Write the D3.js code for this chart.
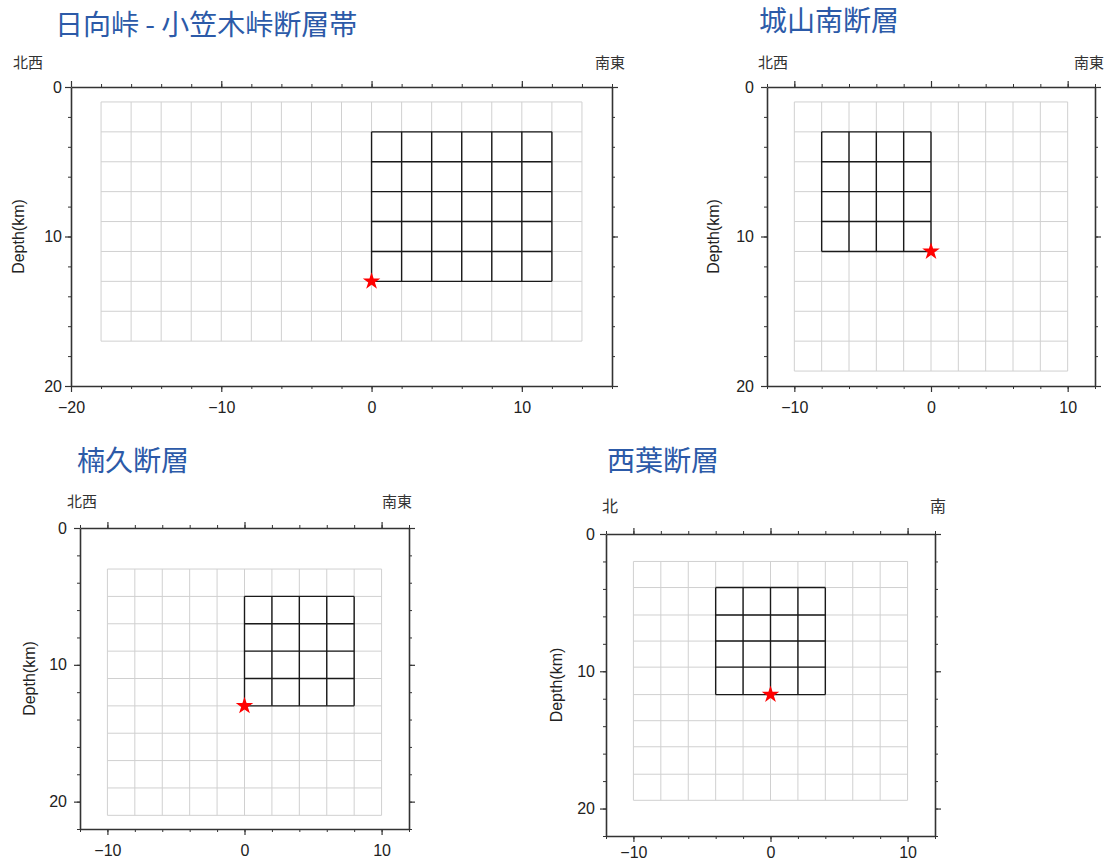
<!DOCTYPE html>
<html>
<head>
<meta charset="utf-8">
<script src="https://cdn.jsdelivr.net/npm/d3@7"></script>
<style>
  body { margin: 0; background: #fff; }
  svg { display: block; }
</style>
</head>
<body>
<div id="chart"></div>
<script>
// fault model cross-sections (depth in km vs horizontal distance in km)

// 日向峠 - 小笠木峠断層帯
const p1Title = "日向峠 - 小笠木峠断層帯";
const p1Ends = ["北西", "南東"];
const p1XDomain = [-20, 16];
const p1YDomain = [0, 20];
const p1XMajor = [-20, -10, 0, 10];
const p1YMajor = [0, 10, 20];
const p1GridX = [-18, -16, -14, -12, -10, -8, -6, -4, -2, 0, 2, 4, 6, 8, 10, 12, 14];
const p1GridY = [1, 3, 5, 7, 9, 11, 13, 15, 17];
const p1FaultX = [0, 2, 4, 6, 8, 10, 12];
const p1FaultY = [3, 5, 7, 9, 11, 13];
const p1Star = [0, 13];

// 城山南断層
const p2Title = "城山南断層";
const p2Ends = ["北西", "南東"];
const p2XDomain = [-12, 12];
const p2YDomain = [0, 20];
const p2XMajor = [-10, 0, 10];
const p2YMajor = [0, 10, 20];
const p2GridX = [-10, -8, -6, -4, -2, 0, 2, 4, 6, 8, 10];
const p2GridY = [1, 3, 5, 7, 9, 11, 13, 15, 17, 19];
const p2FaultX = [-8, -6, -4, -2, 0];
const p2FaultY = [3, 5, 7, 9, 11];
const p2Star = [0, 11];

// 楠久断層
const p3Title = "楠久断層";
const p3Ends = ["北西", "南東"];
const p3XDomain = [-12, 12];
const p3YDomain = [0, 22];
const p3XMajor = [-10, 0, 10];
const p3YMajor = [0, 10, 20];
const p3GridX = [-10, -8, -6, -4, -2, 0, 2, 4, 6, 8, 10];
const p3GridY = [3, 5, 7, 9, 11, 13, 15, 17, 19, 21];
const p3FaultX = [0, 2, 4, 6, 8];
const p3FaultY = [5, 7, 9, 11, 13];
const p3Star = [0, 13];

// 西葉断層
const p4Title = "西葉断層";
const p4Ends = ["北", "南"];
const p4XDomain = [-12, 12];
const p4YDomain = [0, 22];
const p4XMajor = [-10, 0, 10];
const p4YMajor = [0, 10, 20];
const p4GridX = [-10, -8, -6, -4, -2, 0, 2, 4, 6, 8, 10];
const p4GridY = [2.0, 3.9, 5.9, 7.8, 9.7, 11.7, 13.6, 15.5, 17.5, 19.4];
const p4FaultX = [-4, -2, 0, 2, 4];
const p4FaultY = [3.9, 5.9, 7.8, 9.7, 11.7];
const p4Star = [0, 11.7];

const panels = [
  { title: p1Title, ends: p1Ends, xDomain: p1XDomain, yDomain: p1YDomain, xMajor: p1XMajor, yMajor: p1YMajor,
    gridX: p1GridX, gridY: p1GridY, faultX: p1FaultX, faultY: p1FaultY, star: p1Star,
    frame: { left: 71, top: 87, right: 612, bottom: 386 },
    titlePos: [55, 35], endsY: 68, endsX: [13, 625], endsSize: 15, depthX: 18, yPad: 4, xPad: 10 },
  { title: p2Title, ends: p2Ends, xDomain: p2XDomain, yDomain: p2YDomain, xMajor: p2XMajor, yMajor: p2YMajor,
    gridX: p2GridX, gridY: p2GridY, faultX: p2FaultX, faultY: p2FaultY, star: p2Star,
    frame: { left: 767, top: 87, right: 1095, bottom: 386 },
    titlePos: [759, 31], endsY: 68, endsX: [758, 1104], endsSize: 15, depthX: 713, yPad: 8, xPad: 10 },
  { title: p3Title, ends: p3Ends, xDomain: p3XDomain, yDomain: p3YDomain, xMajor: p3XMajor, yMajor: p3YMajor,
    gridX: p3GridX, gridY: p3GridY, faultX: p3FaultX, faultY: p3FaultY, star: p3Star,
    frame: { left: 80, top: 528, right: 409, bottom: 829 },
    titlePos: [77, 471], endsY: 507, endsX: [67, 412], endsSize: 15, depthX: 29, yPad: 8, xPad: 10 },
  { title: p4Title, ends: p4Ends, xDomain: p4XDomain, yDomain: p4YDomain, xMajor: p4XMajor, yMajor: p4YMajor,
    gridX: p4GridX, gridY: p4GridY, faultX: p4FaultX, faultY: p4FaultY, star: p4Star,
    frame: { left: 606, top: 534, right: 935, bottom: 836 },
    titlePos: [607, 471], endsY: 512, endsX: [602, 946], endsSize: 16, depthX: 556, yPad: 6, xPad: 5 }
];

const width = 1105, height = 864;
const svg = d3.select("#chart").append("svg")
  .attr("width", width)
  .attr("height", height);

const numFont = "'Liberation Sans', Arial, Helvetica, sans-serif";
const cjkFont = "'Noto Sans CJK JP', 'Noto Sans CJK SC', sans-serif";
const axisColor = "#333";

function drawPanel(p) {
  const f = p.frame;
  const x = d3.scaleLinear().domain(p.xDomain).range([f.left, f.right]);
  const y = d3.scaleLinear().domain(p.yDomain).range([f.top, f.bottom]);
  const g = svg.append("g");

  // title
  g.append("text")
    .attr("x", p.titlePos[0])
    .attr("y", p.titlePos[1])
    .attr("font-family", cjkFont)
    .attr("font-size", 28)
    .attr("fill", "#2c5aa8")
    .text(p.title);

  // direction labels
  g.append("text")
    .attr("x", p.endsX[0]).attr("y", p.endsY)
    .attr("font-family", cjkFont).attr("font-size", p.endsSize)
    .attr("fill", "#333")
    .text(p.ends[0]);
  g.append("text")
    .attr("x", p.endsX[1]).attr("y", p.endsY)
    .attr("text-anchor", "end")
    .attr("font-family", cjkFont).attr("font-size", p.endsSize)
    .attr("fill", "#333")
    .text(p.ends[1]);

  // light background grid
  const gx = d3.extent(p.gridX), gy = d3.extent(p.gridY);
  const light = g.append("g").attr("stroke", "#d0d0d0").attr("stroke-width", 1);
  light.selectAll("line.v").data(p.gridX).join("line")
    .attr("class", "v")
    .attr("x1", d => x(d)).attr("x2", d => x(d))
    .attr("y1", y(gy[0])).attr("y2", y(gy[1]));
  light.selectAll("line.h").data(p.gridY).join("line")
    .attr("class", "h")
    .attr("x1", x(gx[0])).attr("x2", x(gx[1]))
    .attr("y1", d => y(d)).attr("y2", d => y(d));

  // fault plane grid
  const fx = d3.extent(p.faultX), fy = d3.extent(p.faultY);
  const fault = g.append("g").attr("stroke", "#1a1a1a").attr("stroke-width", 1.4);
  fault.selectAll("line.v").data(p.faultX).join("line")
    .attr("class", "v")
    .attr("x1", d => x(d)).attr("x2", d => x(d))
    .attr("y1", y(fy[0])).attr("y2", y(fy[1]));
  fault.selectAll("line.h").data(p.faultY).join("line")
    .attr("class", "h")
    .attr("x1", x(fx[0])).attr("x2", x(fx[1]))
    .attr("y1", d => y(d)).attr("y2", d => y(d));

  // hypocenter
  g.append("path")
    .attr("d", d3.symbol(d3.symbolStar).size(95)())
    .attr("transform", `translate(${x(p.star[0])},${y(p.star[1])})`)
    .attr("fill", "#ff0000");

  // frame axes: minor ticks every 2 km, major every 10 km, all pointing out
  const xMinor = d3.range(p.xDomain[0], p.xDomain[1] + 0.01, 2);
  const yMinor = d3.range(p.yDomain[0], p.yDomain[1] + 0.01, 2);
  const sides = [
    { make: () => d3.axisBottom(x), t: `translate(0,${f.bottom})`, minor: xMinor, major: p.xMajor, labels: true, pad: p.xPad },
    { make: () => d3.axisTop(x), t: `translate(0,${f.top})`, minor: xMinor, major: p.xMajor, labels: false, pad: 3 },
    { make: () => d3.axisLeft(y), t: `translate(${f.left},0)`, minor: yMinor, major: p.yMajor, labels: true, pad: p.yPad - 1 },
    { make: () => d3.axisRight(y), t: `translate(${f.right},0)`, minor: yMinor, major: p.yMajor, labels: false, pad: 3 }
  ];
  sides.forEach(s => {
    const minorG = g.append("g").attr("transform", s.t)
      .call(s.make().tickValues(s.minor).tickSize(3).tickSizeOuter(0).tickFormat(""));
    minorG.select(".domain").remove();
    minorG.selectAll("line").attr("stroke", axisColor);

    const majorAxis = s.make().tickValues(s.major).tickSize(6).tickSizeOuter(0)
      .tickPadding(s.pad)
      .tickFormat(s.labels ? d3.format("") : "");
    const majorG = g.append("g").attr("transform", s.t).call(majorAxis);
    majorG.select(".domain").attr("stroke", axisColor).attr("stroke-width", 1.6);
    majorG.selectAll("line").attr("stroke", axisColor).attr("stroke-width", 1.2);
    majorG.selectAll("text")
      .attr("font-family", numFont)
      .attr("font-size", 16)
      .attr("fill", "#222");
  });

  // depth label
  g.append("text")
    .attr("transform", `translate(${p.depthX},${(f.top + f.bottom) / 2}) rotate(-90)`)
    .attr("text-anchor", "middle")
    .attr("dy", "0.35em")
    .attr("font-family", numFont)
    .attr("font-size", 16)
    .attr("fill", "#222")
    .text("Depth(km)");
}

panels.forEach(drawPanel);
</script>
</body>
</html>
